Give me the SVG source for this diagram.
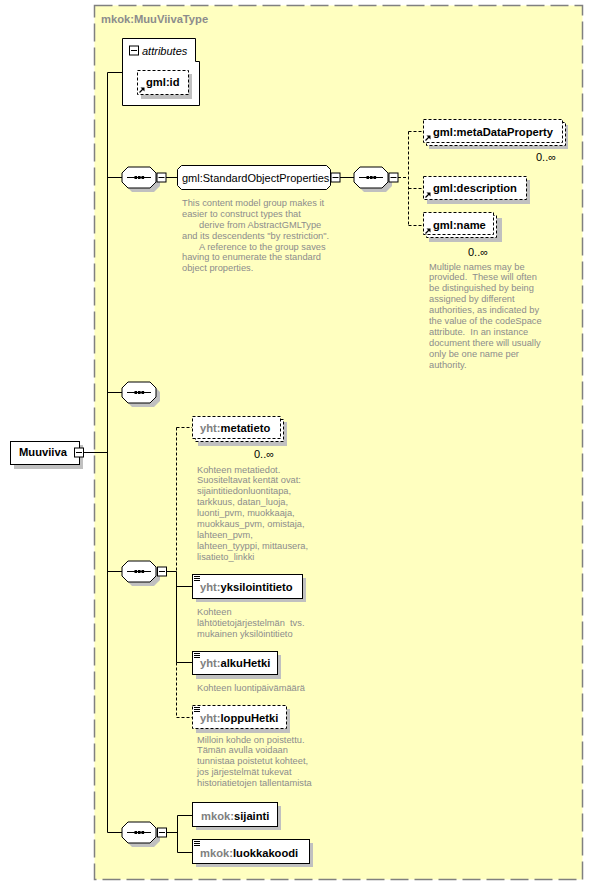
<svg xmlns="http://www.w3.org/2000/svg" xmlns:xlink="http://www.w3.org/1999/xlink" width="593" height="885" viewBox="0 0 593 885">
<style>
text{font-family:"Liberation Sans",Arial,sans-serif;white-space:pre}
.n{font-size:11.2px;font-weight:bold;fill:#000}
.p{fill:#808080}
.g{font-size:11px;fill:#000}
.a{font-size:9.3px;fill:#8c8c8c}
.m{font-size:11px;fill:#000}
.sh{fill:#c0c0c0;stroke:none}
.el{fill:#fff;stroke:#000;stroke-width:1}
.eo{fill:#fff;stroke:#000;stroke-width:1;stroke-dasharray:3,2}
.c{fill:none;stroke:#000;stroke-width:1}
.cd{fill:none;stroke:#000;stroke-width:1;stroke-dasharray:3,2}
</style>
<defs>
<g id="seq">
<path class="sh" d="M10,4 H32 L38,10 V19 L32,25 H10 L4,19 V10 Z"/>
<path class="el" d="M6,0 H28 L34,6 V15 L28,21 H6 L0,15 V6 Z"/>
<line x1="5" y1="10.5" x2="29" y2="10.5" stroke="#000" stroke-width="1"/>
<rect x="12.5" y="9" width="2.6" height="3" fill="#000"/>
<rect x="16" y="9" width="2.6" height="3" fill="#000"/>
<rect x="19.5" y="9" width="2.6" height="3" fill="#000"/>
</g>
<g id="minus">
<rect x="0.5" y="0.5" width="9" height="9" fill="#fff" stroke="#000" stroke-width="1"/>
<line x1="2" y1="5" x2="8" y2="5" stroke="#000" stroke-width="1"/>
</g>
<g id="ref">
<path d="M0.5,5.5 L4,2" stroke="#000" stroke-width="1.2" fill="none"/>
<path d="M1.5,0.5 L5.5,0.5 L5.5,4.5 Z" fill="#000"/>
</g>
<g id="st">
<line x1="0" y1="0.5" x2="6" y2="0.5" stroke="#000"/>
<line x1="0" y1="2.5" x2="6" y2="2.5" stroke="#000"/>
<line x1="0" y1="4.5" x2="6" y2="4.5" stroke="#000"/>
</g>
</defs>

<rect x="0" y="0" width="593" height="885" fill="#fff"/>

<g id="type-frame">
<rect x="94.5" y="5.5" width="488" height="874" fill="#ffffc0" stroke="#808080" stroke-width="1.5" stroke-dasharray="18,6"/>
<text x="101" y="23" class="n" style="fill:#8c8c8c">mkok:MuuViivaType</text>
</g>

<g id="connectors">
<path class="c" d="M83,452.5 H107.5"/>
<path class="c" d="M107.5,72.5 V832.5"/>
<path class="c" d="M107.5,72.5 H122"/>
<path class="c" d="M107.5,177.5 H122"/>
<path class="c" d="M107.5,392.5 H122"/>
<path class="c" d="M107.5,571.5 H122"/>
<path class="c" d="M107.5,832.5 H122"/>
<path class="c" d="M166,177.5 H177"/>
<path class="c" d="M340,177.5 H354"/>
<path class="cd" d="M398,177.5 H408.5"/>
<path class="cd" d="M408.5,131.5 V225.5"/>
<path class="cd" d="M408.5,131.5 H423"/>
<path class="cd" d="M408.5,188.5 H423"/>
<path class="cd" d="M408.5,225.5 H423"/>
<path class="c" d="M167,571.5 H176.5"/>
<path class="cd" d="M176.5,427.5 V571.5"/>
<path class="c" d="M176.5,571.5 V662.5"/>
<path class="cd" d="M176.5,662.5 V717.5"/>
<path class="cd" d="M176.5,427.5 H192"/>
<path class="c" d="M176.5,586.5 H192"/>
<path class="c" d="M176.5,662.5 H192"/>
<path class="cd" d="M176.5,717.5 H192"/>
<path class="c" d="M167,832.5 H177.5"/>
<path class="c" d="M177.5,815.5 V852.5"/>
<path class="c" d="M177.5,815.5 H192"/>
<path class="c" d="M177.5,852.5 H192"/>
</g>

<g id="node-muuviiva">
<rect class="sh" x="14" y="445" width="69" height="24"/>
<rect class="el" x="10.5" y="441.5" width="69" height="23"/>
<text x="19" y="456" class="n">Muuviiva</text>
<use xlink:href="#minus" x="74" y="447.5"/>
</g>

<g id="node-attributes">
<path class="el" d="M122.5,38.5 H195.5 V61.5 H199.5 V105.5 H122.5 Z"/>
<use xlink:href="#minus" x="129" y="45.5"/>
<text x="142" y="55" class="g" font-style="italic">attributes</text>
</g>

<g id="node-gml-id">
<rect class="sh" x="141" y="74" width="51" height="25"/>
<rect class="eo" x="137.5" y="70.5" width="51" height="24"/>
<use xlink:href="#ref" x="139" y="87"/>
<text x="146" y="86" class="n">gml:id</text>
</g>

<g id="node-seq1">
<use xlink:href="#seq" x="122" y="167"/>
<use xlink:href="#minus" x="156.5" y="172.5"/>
</g>

<g id="node-standard-object-properties">
<path class="el" d="M181.5,165.5 H326.5 L330.5,169.5 V185.5 L326.5,189.5 H181.5 L177.5,185.5 V169.5 Z"/>
<text x="182" y="181.5" class="g">gml:StandardObjectProperties</text>
<use xlink:href="#minus" x="330.5" y="172.5"/>
<text class="a"><tspan x="182" y="206">This content model group makes it</tspan><tspan x="182" y="217">easier to construct types that</tspan><tspan x="199" y="227.5">derive from AbstractGMLType</tspan><tspan x="182" y="238.5">and its descendents "by restriction".</tspan><tspan x="199" y="249.5">A reference to the group saves</tspan><tspan x="182" y="260">having to enumerate the standard</tspan><tspan x="182" y="271">object properties.</tspan></text>
</g>

<g id="node-seq2">
<use xlink:href="#seq" x="354" y="167"/>
<use xlink:href="#minus" x="388.5" y="172.5"/>
</g>

<g id="node-metadataproperty">
<rect class="sh" x="429" y="125" width="139" height="24"/>
<rect class="eo" x="426.5" y="122.5" width="139" height="23"/>
<rect class="eo" x="423.5" y="119.5" width="139" height="23"/>
<use xlink:href="#ref" x="425" y="135"/>
<text x="433" y="135.5" class="n">gml:metaDataProperty</text>
<text x="536" y="160.5" class="m">0..∞</text>
</g>

<g id="node-description">
<rect class="sh" x="427" y="180" width="103" height="24"/>
<rect class="eo" x="423.5" y="176.5" width="103" height="23"/>
<use xlink:href="#ref" x="425" y="192"/>
<text x="433" y="192" class="n">gml:description</text>
</g>

<g id="node-name">
<rect class="sh" x="429" y="218" width="73" height="24"/>
<rect class="eo" x="426.5" y="215.5" width="70" height="22"/>
<rect class="eo" x="423.5" y="212.5" width="70" height="22"/>
<use xlink:href="#ref" x="425" y="228"/>
<text x="433" y="228.5" class="n">gml:name</text>
<text x="468" y="255.5" class="m">0..∞</text>
<text class="a"><tspan x="429" y="269.5">Multiple names may be</tspan><tspan x="429" y="280.4">provided.  These will often</tspan><tspan x="429" y="291.3">be distinguished by being</tspan><tspan x="429" y="302.2">assigned by different</tspan><tspan x="429" y="313.1">authorities, as indicated by</tspan><tspan x="429" y="324">the value of the codeSpace</tspan><tspan x="429" y="334.9">attribute.  In an instance</tspan><tspan x="429" y="345.8">document there will usually</tspan><tspan x="429" y="356.7">only be one name per</tspan><tspan x="429" y="367.6">authority.</tspan></text>
</g>

<g id="node-seq3">
<use xlink:href="#seq" x="122" y="382"/>
</g>

<g id="node-metatieto">
<rect class="sh" x="198" y="422" width="89" height="24"/>
<rect class="eo" x="195.5" y="419.5" width="88" height="22"/>
<rect class="eo" x="192.5" y="416.5" width="88" height="22"/>
<text x="200" y="431.5" class="n"><tspan class="p">yht:</tspan>metatieto</text>
<text x="254" y="457.5" class="m">0..∞</text>
<text class="a"><tspan x="197" y="472.5">Kohteen metatiedot.</tspan><tspan x="197" y="483.4">Suositeltavat kentät ovat:</tspan><tspan x="197" y="494.3">sijaintitiedonluontitapa,</tspan><tspan x="197" y="505.2">tarkkuus, datan_luoja,</tspan><tspan x="197" y="516.1">luonti_pvm, muokkaaja,</tspan><tspan x="197" y="527">muokkaus_pvm, omistaja,</tspan><tspan x="197" y="537.9">lahteen_pvm,</tspan><tspan x="197" y="548.8">lahteen_tyyppi, mittausera,</tspan><tspan x="197" y="559.7">lisatieto_linkki</tspan></text>
</g>

<g id="node-seq4">
<use xlink:href="#seq" x="122" y="561"/>
<use xlink:href="#minus" x="157" y="566.5"/>
</g>

<g id="node-yksilointitieto">
<rect class="sh" x="196" y="578" width="110" height="24"/>
<rect class="el" x="192.5" y="574.5" width="110" height="24"/>
<use xlink:href="#st" x="194" y="576"/>
<text x="200" y="590.5" class="n"><tspan class="p">yht:</tspan>yksilointitieto</text>
<text class="a"><tspan x="197" y="614.5">Kohteen</tspan><tspan x="197" y="625.5">lähtötietojärjestelmän  tvs.</tspan><tspan x="197" y="636.5">mukainen yksilöintitieto</tspan></text>
</g>

<g id="node-alkuhetki">
<rect class="sh" x="196" y="655" width="85" height="24"/>
<rect class="el" x="192.5" y="651.5" width="85" height="23"/>
<use xlink:href="#st" x="194" y="653"/>
<text x="200" y="666.5" class="n"><tspan class="p">yht:</tspan>alkuHetki</text>
<text x="197" y="690.5" class="a">Kohteen luontipäivämäärä</text>
</g>

<g id="node-loppuhetki">
<rect class="sh" x="196" y="709" width="94" height="24"/>
<rect class="eo" x="192.5" y="705.5" width="94" height="23"/>
<use xlink:href="#st" x="194" y="707"/>
<text x="200" y="721.5" class="n"><tspan class="p">yht:</tspan>loppuHetki</text>
<text class="a"><tspan x="197" y="742.5">Milloin kohde on poistettu.</tspan><tspan x="197" y="753.4">Tämän avulla voidaan</tspan><tspan x="197" y="764.3">tunnistaa poistetut kohteet,</tspan><tspan x="197" y="775.2">jos järjestelmät tukevat</tspan><tspan x="197" y="786.1">historiatietojen tallentamista</tspan></text>
</g>

<g id="node-seq5">
<use xlink:href="#seq" x="122" y="822"/>
<use xlink:href="#minus" x="157" y="827.5"/>
</g>

<g id="node-sijainti">
<rect class="sh" x="196" y="806" width="85" height="24"/>
<rect class="el" x="192.5" y="802.5" width="85" height="24"/>
<text x="201" y="819.5" class="n"><tspan class="p">mkok:</tspan>sijainti</text>
</g>

<g id="node-luokkakoodi">
<rect class="sh" x="196" y="843" width="117" height="24"/>
<rect class="el" x="192.5" y="839.5" width="117" height="24"/>
<use xlink:href="#st" x="194" y="841"/>
<text x="200" y="856.5" class="n"><tspan class="p">mkok:</tspan>luokkakoodi</text>
</g>
</svg>
